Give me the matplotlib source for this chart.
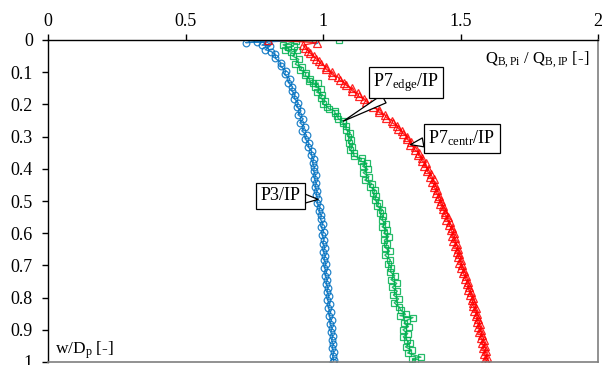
import matplotlib
matplotlib.use("Agg")
import matplotlib.pyplot as plt

plt.rcParams["font.family"] = ["Liberation Serif", "DejaVu Serif"]
plt.rcParams["mathtext.fontset"] = "custom"
plt.rcParams["mathtext.rm"] = "Liberation Serif"
plt.rcParams["mathtext.it"] = "Liberation Serif:italic"

# Normalised penetration depth w/Dp and base resistance ratio QB,Pi/QB,IP
p3_w = [0.000, 0.008, 0.006, 0.005, 0.016, 0.018, 0.030, 0.036,
        0.045, 0.057, 0.070, 0.082, 0.095, 0.107, 0.120, 0.132, 0.145, 0.157,
        0.170, 0.182, 0.195, 0.207, 0.220, 0.232, 0.245, 0.257, 0.270, 0.282,
        0.295, 0.307, 0.320, 0.332, 0.345, 0.357, 0.370, 0.382, 0.395, 0.407,
        0.420, 0.432, 0.445, 0.457, 0.470, 0.482, 0.495, 0.507, 0.520, 0.532,
        0.545, 0.557, 0.570, 0.582, 0.595, 0.607, 0.620, 0.632, 0.645, 0.657,
        0.670, 0.682, 0.695, 0.707, 0.720, 0.732, 0.745, 0.757, 0.770, 0.782,
        0.795, 0.807, 0.820, 0.832, 0.845, 0.857, 0.870, 0.882, 0.895, 0.907,
        0.920, 0.932, 0.945, 0.957, 0.970, 0.982, 0.995, 1.000]
p3_q = [0.970, 0.719, 0.760, 0.800, 0.778, 0.808, 0.790, 0.812,
        0.826, 0.827, 0.846, 0.846, 0.865, 0.860, 0.879, 0.874, 0.889, 0.886,
        0.898, 0.896, 0.910, 0.904, 0.920, 0.909, 0.928, 0.916, 0.933, 0.923,
        0.940, 0.935, 0.949, 0.946, 0.959, 0.957, 0.966, 0.962, 0.969, 0.966,
        0.973, 0.969, 0.976, 0.971, 0.979, 0.975, 0.982, 0.978, 0.990, 0.985,
        0.994, 0.991, 0.999, 0.994, 1.002, 0.997, 1.004, 0.999, 1.007, 1.001,
        1.009, 1.003, 1.011, 1.005, 1.013, 1.008, 1.016, 1.011, 1.019, 1.014,
        1.022, 1.016, 1.025, 1.019, 1.028, 1.022, 1.031, 1.025, 1.034, 1.028,
        1.036, 1.031, 1.038, 1.033, 1.040, 1.035, 1.039, 1.037]

p7e_w = [0.000, 0.004, 0.015, 0.022, 0.018, 0.030, 0.038, 0.031, 0.050, 0.060,
         0.075, 0.085, 0.093, 0.102, 0.110, 0.120, 0.128, 0.135, 0.134, 0.145,
         0.152, 0.162, 0.170, 0.180, 0.190, 0.198, 0.207, 0.213, 0.220, 0.228,
         0.236, 0.245, 0.252, 0.259, 0.268, 0.278, 0.288, 0.300, 0.310, 0.320,
         0.332, 0.342, 0.352, 0.360, 0.368, 0.376, 0.383, 0.392, 0.402, 0.412,
         0.424, 0.435, 0.446, 0.455, 0.466, 0.476, 0.486, 0.496, 0.507, 0.517,
         0.527, 0.537, 0.548, 0.559, 0.570, 0.580, 0.590, 0.600, 0.611, 0.622,
         0.633, 0.645, 0.656, 0.668, 0.683, 0.695, 0.708, 0.720, 0.732, 0.744,
         0.756, 0.768, 0.780, 0.792, 0.804, 0.816, 0.828, 0.840, 0.852, 0.856,
         0.862, 0.870, 0.880, 0.890, 0.900, 0.912, 0.922, 0.932, 0.942, 0.953,
         0.963, 0.972, 0.985, 0.990, 0.999]
p7e_q = [1.058, 0.900, 0.855, 0.872, 0.893, 0.862, 0.884, 0.905, 0.890, 0.912,
         0.899, 0.924, 0.918, 0.938, 0.935, 0.952, 0.949, 0.962, 0.983, 0.970,
         0.992, 0.977, 0.998, 0.991, 1.008, 0.999, 1.016, 1.020, 1.042, 1.044,
         1.052, 1.056, 1.074, 1.072, 1.085, 1.083, 1.099, 1.092, 1.102, 1.094,
         1.107, 1.099, 1.112, 1.112, 1.140, 1.137, 1.160, 1.144, 1.163, 1.146,
         1.167, 1.152, 1.177, 1.170, 1.190, 1.183, 1.193, 1.188, 1.202, 1.198,
         1.216, 1.208, 1.219, 1.214, 1.229, 1.215, 1.234, 1.221, 1.239, 1.223,
         1.232, 1.227, 1.242, 1.225, 1.245, 1.238, 1.248, 1.245, 1.261, 1.247,
         1.268, 1.252, 1.270, 1.256, 1.275, 1.259, 1.276, 1.284, 1.300, 1.280,
         1.327, 1.306, 1.295, 1.311, 1.291, 1.308, 1.292, 1.305, 1.316, 1.300,
         1.322, 1.308, 1.356, 1.325, 1.335]

p7c_w = [0.000, 0.008, 0.016, 0.025, 0.033, 0.041, 0.050, 0.058, 0.066, 0.075,
         0.083, 0.091, 0.100, 0.108, 0.116, 0.125, 0.133, 0.141, 0.150, 0.158,
         0.166, 0.175, 0.183, 0.191, 0.200, 0.208, 0.216, 0.225, 0.233, 0.241,
         0.250, 0.258, 0.266, 0.275, 0.283, 0.291, 0.300, 0.308, 0.316, 0.325,
         0.333, 0.341, 0.350, 0.358, 0.366, 0.375, 0.383, 0.391, 0.400, 0.408,
         0.416, 0.425, 0.433, 0.441, 0.450, 0.458, 0.466, 0.475, 0.483, 0.491,
         0.500, 0.508, 0.516, 0.525, 0.533, 0.541, 0.550, 0.558, 0.566, 0.575,
         0.583, 0.591, 0.600, 0.608, 0.616, 0.625, 0.633, 0.641, 0.650, 0.658,
         0.666, 0.675, 0.683, 0.691, 0.700, 0.708, 0.716, 0.725, 0.733, 0.741,
         0.750, 0.758, 0.766, 0.775, 0.783, 0.791, 0.800, 0.808, 0.816, 0.825,
         0.833, 0.841, 0.850, 0.858, 0.866, 0.875, 0.883, 0.891, 0.900, 0.908,
         0.916, 0.925, 0.933, 0.941, 0.950, 0.958, 0.966, 0.975, 0.983, 0.991,
         1.000]
p7c_q = [0.801, 0.977, 0.927, 0.935, 0.945, 0.953, 0.966, 0.975, 0.986, 0.994,
         1.010, 1.011, 1.031, 1.034, 1.056, 1.061, 1.078, 1.085, 1.105, 1.106,
         1.126, 1.130, 1.150, 1.156, 1.175, 1.182, 1.202, 1.204, 1.226, 1.230,
         1.252, 1.253, 1.270, 1.274, 1.287, 1.292, 1.306, 1.305, 1.321, 1.318,
         1.334, 1.333, 1.349, 1.347, 1.361, 1.359, 1.373, 1.368, 1.383, 1.378,
         1.393, 1.388, 1.402, 1.396, 1.409, 1.403, 1.416, 1.410, 1.423, 1.417,
         1.430, 1.426, 1.437, 1.435, 1.445, 1.442, 1.454, 1.449, 1.461, 1.458,
         1.468, 1.465, 1.475, 1.469, 1.481, 1.474, 1.486, 1.480, 1.491, 1.486,
         1.496, 1.491, 1.501, 1.496, 1.506, 1.502, 1.513, 1.509, 1.520, 1.516,
         1.526, 1.522, 1.532, 1.528, 1.538, 1.535, 1.545, 1.541, 1.547, 1.545,
         1.555, 1.550, 1.560, 1.555, 1.565, 1.559, 1.570, 1.564, 1.574, 1.568,
         1.579, 1.573, 1.584, 1.577, 1.588, 1.582, 1.592, 1.586, 1.596, 1.590,
         1.596]

x_ticks = [0, 0.5, 1, 1.5, 2]
x_tick_labels = ["0", "0.5", "1", "1.5", "2"]
y_ticks = [0, 0.1, 0.2, 0.3, 0.4, 0.5, 0.6, 0.7, 0.8, 0.9, 1]
y_tick_labels = ["0", "0.1", "0.2", "0.3", "0.4", "0.5", "0.6", "0.7", "0.8", "0.9", "1"]

BLUE = "#0070C0"
GREEN = "#00B050"
RED = "#FF0000"

fig = plt.figure(figsize=(6.07, 3.65), dpi=100)
ax = fig.add_axes([48 / 607, 1 - 362 / 365, 550 / 607, 322 / 365])

common = dict(linewidth=1.0, markerfacecolor="none", markeredgewidth=0.9, alpha=0.85)
ax.plot(p3_q, p3_w, color=BLUE, marker="o", markersize=4.8, **common)
ax.plot(p7e_q, p7e_w, color=GREEN, marker="s", markersize=4.6, **common)
ax.plot(p7c_q, p7c_w, color=RED, marker="^", markersize=5.2, **common)

ax.set_xlim(0, 2)
ax.set_ylim(1, 0)
ax.xaxis.tick_top()
ax.set_xticks(x_ticks)
ax.set_xticklabels(x_tick_labels)
ax.set_yticks(y_ticks)
ax.set_yticklabels(y_tick_labels)
ax.tick_params(axis="both", direction="out", length=4.3, width=1, labelsize=13,
               colors="black")
ax.tick_params(axis="x", pad=3)
ax.tick_params(axis="y", pad=6.5)

for side in ("top", "left"):
    ax.spines[side].set_color("black")
    ax.spines[side].set_linewidth(1.0)
for side in ("bottom", "right"):
    ax.spines[side].set_color("#7f7f7f")
    ax.spines[side].set_linewidth(1.2)

ax.text(1.967, 0.062, r"Q$_{\mathrm{B,Pi}}$ / Q$_{\mathrm{B,IP}}$ [-]",
        ha="right", va="center", fontsize=12)
ax.text(0.025, 0.963, r"w/D$_{\mathrm{p}}$ [-]", ha="left", va="center", fontsize=12.5)


def callout(text, q_vals, w_vals, idx, text_xy, relpos):
    ax.annotate(
        text, xy=(q_vals[idx], w_vals[idx]), xytext=text_xy,
        ha="center", va="center", fontsize=13, zorder=5,
        bbox=dict(boxstyle="square,pad=0.25", fc="white", ec="black", lw=0.9),
        arrowprops=dict(arrowstyle="wedge,tail_width=0.5,shrink_factor=0.5",
                        fc="white", ec="black", lw=0.9, relpos=relpos,
                        shrinkA=0, shrinkB=0),
    )


callout("P3/IP", p3_q, p3_w, p3_w.index(0.495), (0.844, 0.484), (1.0, 0.35))
callout(r"P7$_{\mathrm{edge}}$/IP", p7e_q, p7e_w, p7e_w.index(0.252), (1.302, 0.132), (0.3, 0.0))
callout(r"P7$_{\mathrm{centr}}$/IP", p7c_q, p7c_w, p7c_w.index(0.325), (1.504, 0.306), (0.0, 0.35))

fig.savefig("out.png", dpi=100)
